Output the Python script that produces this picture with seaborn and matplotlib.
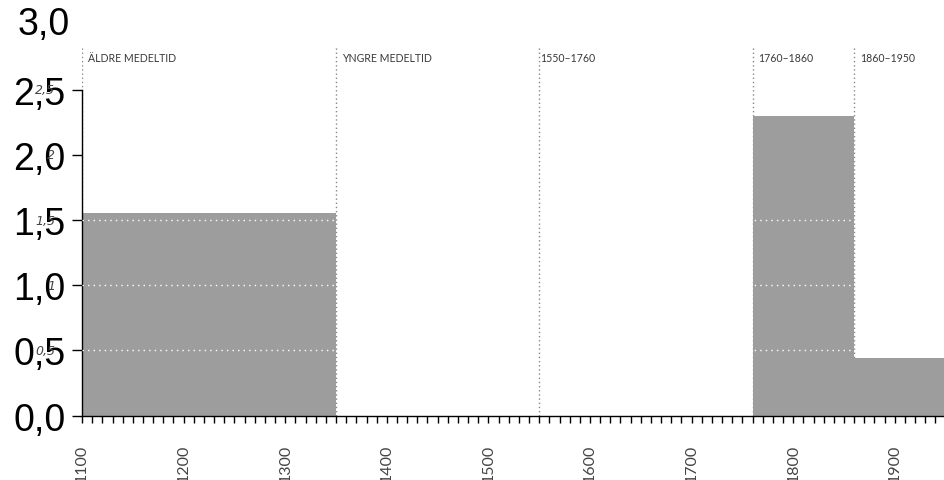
import numpy as np
import matplotlib
matplotlib.use("Agg")
import matplotlib.pyplot as plt
from matplotlib.ticker import MultipleLocator
import seaborn as sns

# Periods and values
period_start = [1100, 1350, 1550, 1760, 1860]
period_end = [1350, 1550, 1760, 1860, 1950]
period_labels = ["ÄLDRE MEDELTID", "YNGRE MEDELTID", "1550–1760", "1760–1860", "1860–1950"]
values = [1.555, 0.0, 0.0, 2.30, 0.44]

y_ticks = [0.0, 0.5, 1.0, 1.5, 2.0, 2.5]
y_tick_labels = ["0,0", "0,5", "1,0", "1,5", "2,0", "2,5"]
y_top_label = "3,0"
small_ticks = [0.5, 1.0, 1.5, 2.0, 2.5]
small_labels = ["0,5", "1", "1,5", "2", "2,5"]
x_ticks = [1100, 1200, 1300, 1400, 1500, 1600, 1700, 1800, 1900]


def main():
    sns.set_style("white")
    plt.rcParams["font.family"] = ["Lato", "DejaVu Sans"]

    fig = plt.figure(figsize=(9.44, 4.81), dpi=100)
    ax = fig.add_axes([0.0869, 0.1337, 0.9148, 0.8133])

    edges = period_start + [period_end[-1]]
    mids = [(a + b) / 2 for a, b in zip(period_start, period_end)]
    sns.histplot(x=mids, weights=values, bins=edges, stat="count",
                 color="#9d9d9d", edgecolor="none", alpha=1.0,
                 linewidth=0, ax=ax, zorder=2)

    # period separators and labels
    line_top = 2.83
    offsets = [6, 6, 1, 6, 6]
    for x0, lab, off in zip(period_start, period_labels, offsets):
        ax.vlines(x0, 0, line_top, colors="#888888", linestyles=(0, (1, 2)),
                  linewidth=1, zorder=1)
        ax.annotate(lab, xy=(x0, 2.745), xytext=(off * 0.72, 0),
                    textcoords="offset points", ha="left", va="center",
                    fontsize=7.6, color="#3a3a3a")

    # white dotted gridlines over the bars
    for yv in [0.5, 1.0, 1.5]:
        ax.axhline(yv, color="white", linestyle=(0, (1, 3)), linewidth=1, zorder=3)

    ax.set_xlim(1100, 1950)
    ax.set_ylim(0, 3.0)

    ax.set_yticks(y_ticks)
    ax.set_yticklabels(y_tick_labels, fontfamily="Liberation Sans",
                       fontsize=27, color="black")
    ax.tick_params(axis="y", length=7, width=1, color="black", pad=5, left=True)
    ax.text(-0.0136, 3.0, y_top_label, transform=ax.get_yaxis_transform(),
            ha="right", va="center", fontfamily="Liberation Sans",
            fontsize=27, color="black")

    ax.set_xticks(x_ticks)
    ax.set_xticklabels([str(v) for v in x_ticks], rotation=90, fontsize=11.5,
                       color="#444444")
    ax.xaxis.set_minor_locator(MultipleLocator(10))
    ax.tick_params(axis="x", which="both", length=5, width=1, color="black",
                   direction="out", bottom=True, pad=15)

    for yv, lab in zip(small_ticks, small_labels):
        ax.text(-0.031, yv, lab, transform=ax.get_yaxis_transform(),
                ha="right", va="center", fontsize=9, color="#444444",
                fontfamily="DejaVu Sans", fontstyle="italic", fontweight="light")

    sns.despine(ax=ax)
    ax.spines["left"].set_bounds(0, 2.5)
    ax.spines["left"].set_color("black")
    ax.spines["bottom"].set_color("black")
    ax.spines["left"].set_linewidth(1)
    ax.spines["bottom"].set_linewidth(1)
    ax.set_xlabel("")
    ax.set_ylabel("")
    ax.grid(False)

    fig.savefig("out.png", dpi=100)


if __name__ == "__main__":
    main()
